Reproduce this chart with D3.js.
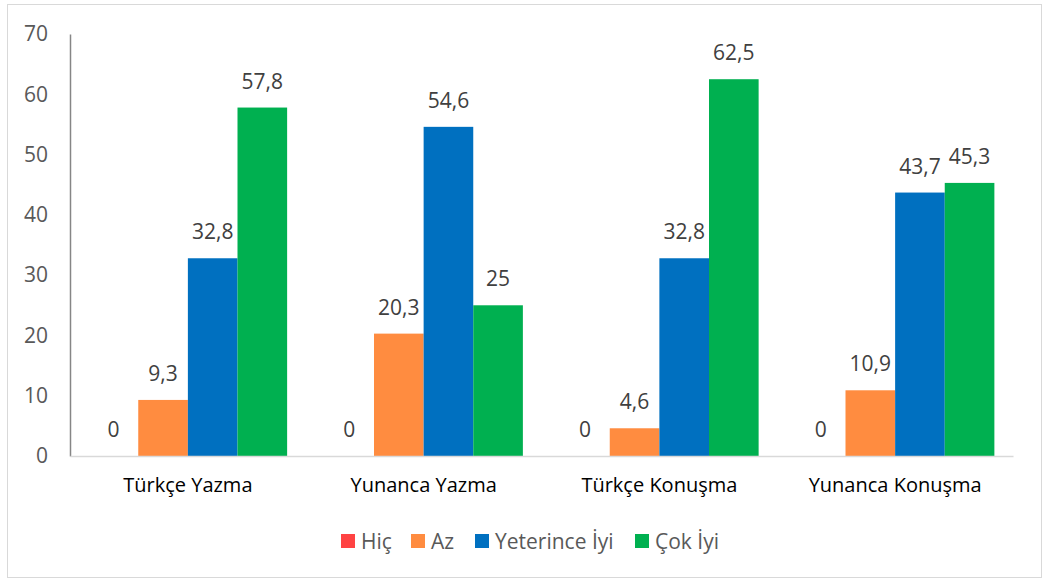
<!DOCTYPE html>
<head>
  <title>Dil Becerileri</title>
  <meta charset="utf-8">
  <script type="text/javascript" src="https://cdn.jsdelivr.net/npm/d3@7"></script>
  <style>
    body { margin: 0; background: #fff; }
    text { font-family: "Open Sans", "Noto Sans", sans-serif; }
  </style>
</head>
<body>
  <div id="barChart"></div>
</body>
<script>
  // data
  var categories = ["Türkçe Yazma", "Yunanca Yazma", "Türkçe Konuşma", "Yunanca Konuşma"];
  var seriesNames = ["Hiç", "Az", "Yeterince İyi", "Çok İyi"];
  var hic = [0, 0, 0, 0];
  var az = [9.3, 20.3, 4.6, 10.9];
  var yeterince = [32.8, 54.6, 32.8, 43.7];
  var cokIyi = [57.8, 25, 62.5, 45.3];
  var yTicks = [0, 10, 20, 30, 40, 50, 60, 70];
  var colors = ["#FF4343", "#FF8C40", "#0070C0", "#00B050"];

  var seriesValues = [hic, az, yeterince, cokIyi];

  var W = 1047, H = 579;
  var margin = {top: 34, left: 70},
      width = 1013 - margin.left,
      height = 456 - margin.top;

  var root = d3.select("#barChart")
    .append("svg")
    .attr("width", W)
    .attr("height", H);

  // outer chart border
  root.append("rect")
    .attr("x", 7.5).attr("y", 4.5)
    .attr("width", 1034).attr("height", 573)
    .attr("fill", "#fff")
    .attr("stroke", "#D9D9D9")
    .attr("stroke-width", 1);

  var svg = root.append("g")
    .attr("transform", "translate(" + margin.left + "," + margin.top + ")");

  var x0 = d3.scaleBand()
    .domain(categories)
    .range([0, width])
    .paddingInner(0.158)
    .paddingOuter(0.079);

  var x1 = d3.scaleBand()
    .domain(seriesNames)
    .range([0, x0.bandwidth()]);

  var y = d3.scaleLinear()
    .domain([0, 70])
    .range([height, 0]);

  // y axis
  var yAxis = svg.append("g")
    .call(d3.axisLeft(y).tickValues(yTicks).tickSize(0).tickPadding(22));
  yAxis.select(".domain").attr("stroke", "#868686").attr("stroke-width", 1.5);
  yAxis.selectAll("text")
    .attr("fill", "#595959")
    .style("font-size", "21px");

  // bars
  var groups = svg.selectAll(".grp")
    .data(categories)
    .enter().append("g")
    .attr("transform", function(d) { return "translate(" + x0(d) + ",0)"; });

  groups.each(function(cat, ci) {
    var g = d3.select(this);
    var rows = seriesNames.map(function(s, si) {
      return {name: s, value: seriesValues[si][ci], color: colors[si]};
    });
    g.selectAll("rect")
      .data(rows)
      .enter().append("rect")
      .attr("x", function(d) { return x1(d.name); })
      .attr("y", function(d) { return y(d.value); })
      .attr("width", x1.bandwidth())
      .attr("height", function(d) { return height - y(d.value); })
      .attr("fill", function(d) { return d.color; });
    g.selectAll("text")
      .data(rows)
      .enter().append("text")
      .attr("x", function(d) { return x1(d.name) + x1.bandwidth() / 2; })
      .attr("y", function(d) { return y(d.value) - 19; })
      .attr("text-anchor", "middle")
      .attr("fill", "#404040")
      .style("font-size", "21px")
      .text(function(d) { return String(d.value).replace(".", ","); });
  });

  // x axis baseline + labels
  var xAxis = svg.append("g")
    .attr("transform", "translate(0," + height + ")")
    .call(d3.axisBottom(x0).tickSize(0).tickPadding(22));
  xAxis.select(".domain").attr("stroke", "#D9D9D9").attr("stroke-width", 1.5);
  xAxis.selectAll("text")
    .attr("fill", "#000")
    .style("font-size", "20px");

  // legend
  var legendX = [341, 411, 475, 635];
  var legend = root.append("g");
  seriesNames.forEach(function(s, i) {
    legend.append("rect")
      .attr("x", legendX[i]).attr("y", 534)
      .attr("width", 14).attr("height", 14)
      .attr("fill", colors[i]);
    legend.append("text")
      .attr("x", legendX[i] + 20).attr("y", 549)
      .attr("fill", "#595959")
      .style("font-size", "21px")
      .text(s);
  });
</script>
